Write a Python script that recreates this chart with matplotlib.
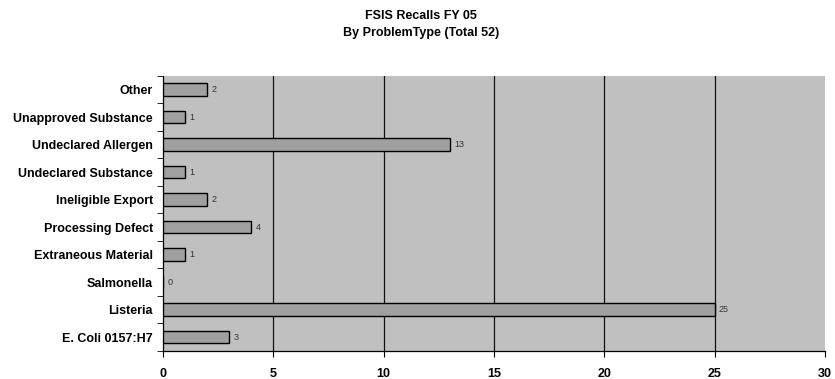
import matplotlib
matplotlib.use("Agg")
import matplotlib.pyplot as plt
import numpy as np

plt.rcParams["font.family"] = ["Liberation Sans", "DejaVu Sans"]

# datos (de abajo hacia arriba)
categorias = ["E. Coli 0157:H7", "Listeria", "Salmonella", "Extraneous Material",
              "Processing Defect", "Ineligible Export", "Undeclared Substance",
              "Undeclared Allergen", "Unapproved Substance", "Other"]
retiros = [3, 25, 0, 1, 4, 2, 1, 13, 1, 2]
ticks_x = [0, 5, 10, 15, 20, 25, 30]

fig = plt.figure(figsize=(8.35, 3.79), dpi=100)
ax = fig.add_axes([0.195, 0.074, 0.793, 0.726])
ax.set_facecolor("#C0C0C0")

y = np.arange(len(categorias))
ax.barh(y, retiros, height=0.45, color="#A0A0A0", edgecolor="black", linewidth=1.0, zorder=3)
for yi, v in zip(y, retiros):
    ax.text(v + 0.2, yi, str(v), va="center", ha="left", fontsize=6.5, color="#333333", zorder=4)

ax.set_xlim(0, 30)
ax.set_ylim(-0.5, len(categorias) - 0.5)
ax.set_xticks(ticks_x)
ax.set_xticklabels([str(t) for t in ticks_x], fontsize=9, fontweight="bold")
ax.set_yticks(y)
ax.set_yticklabels(categorias, fontsize=9, fontweight="bold")
ax.set_yticks(np.arange(-0.5, len(categorias), 1), minor=True)
ax.tick_params(axis="y", which="major", length=0, pad=7)
ax.tick_params(axis="y", which="minor", length=4, direction="out")
ax.tick_params(axis="x", length=4, direction="out", pad=8)

for t in ticks_x[1:-1]:
    ax.axvline(t, color="#111111", linewidth=0.9, zorder=1)

for s in ["top", "right"]:
    ax.spines[s].set_visible(False)
ax.spines["left"].set_linewidth(0.9)
ax.spines["bottom"].set_linewidth(0.9)

fig.text(0.504, 0.958, "FSIS Recalls FY 05", ha="center", va="center", fontsize=9, fontweight="bold")
fig.text(0.504, 0.913, "By ProblemType (Total 52)", ha="center", va="center", fontsize=9, fontweight="bold")

fig.savefig("out.png", dpi=100)
plt.close(fig)
